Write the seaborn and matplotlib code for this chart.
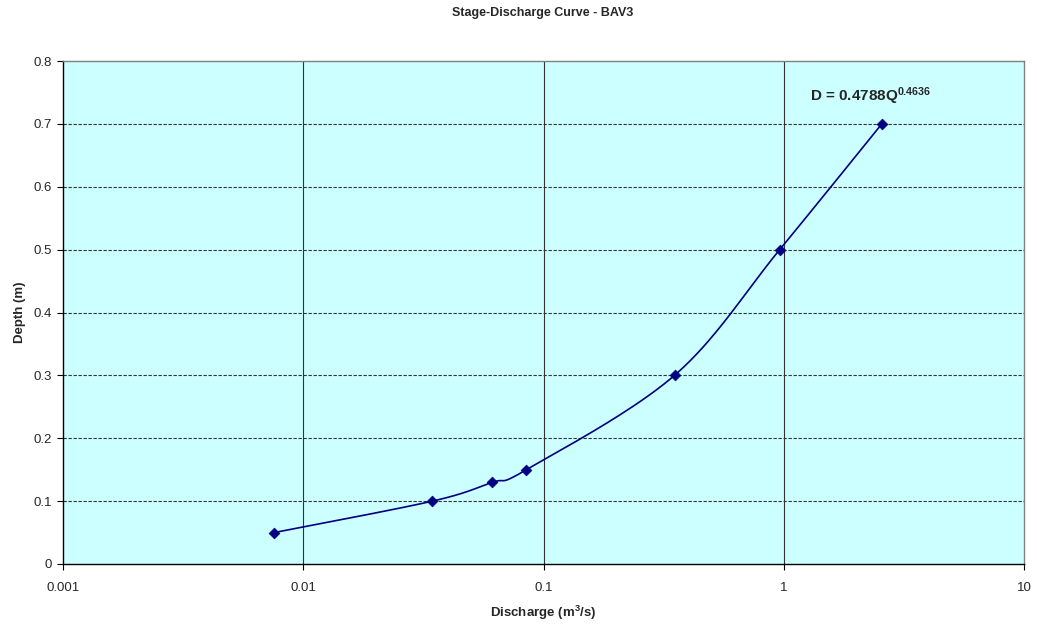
import numpy as np
import pandas as pd
import matplotlib
matplotlib.use("Agg")
import matplotlib.pyplot as plt
import seaborn as sns

# Data
discharge = [0.00757, 0.0345, 0.0613, 0.0849, 0.351, 0.962, 2.56]
depth = [0.05, 0.10, 0.13, 0.15, 0.30, 0.50, 0.70]
x_ticks = [0.001, 0.01, 0.1, 1, 10]
x_tick_labels = ["0.001", "0.01", "0.1", "1", "10"]
y_ticks = [0, 0.1, 0.2, 0.3, 0.4, 0.5, 0.6, 0.7, 0.8]
y_tick_labels = ["0", "0.1", "0.2", "0.3", "0.4", "0.5", "0.6", "0.7", "0.8"]
title = "Stage-Discharge Curve - BAV3"
equation = "D = 0.4788Q$^{0.4636}$"

sns.set_style("white")
plt.rcParams["font.family"] = ["Liberation Sans", "DejaVu Sans"]
plt.rcParams["mathtext.fontset"] = "custom"
plt.rcParams["mathtext.rm"] = "Liberation Sans:bold"
plt.rcParams["mathtext.bf"] = "Liberation Sans:bold"
plt.rcParams["mathtext.default"] = "bf"

fig = plt.figure(figsize=(10.37, 6.28), dpi=100)
ax = fig.add_axes([63/1037, 1 - 564/628, (1024-63)/1037, (564-61)/628])
ax.set_facecolor("#CCFFFF")
ax.set_xscale("log")
ax.set_xlim(0.001, 10)
ax.set_ylim(0, 0.8)

# Smoothed line (Excel-style Catmull-Rom in screen space)
pts = ax.transData.transform(np.column_stack([discharge, depth]))
curve = []
n = len(pts)
for i in range(n - 1):
    p0 = pts[i - 1] if i > 0 else pts[i]
    p1 = pts[i]
    p2 = pts[i + 1]
    p3 = pts[i + 2] if i + 2 < n else pts[i + 1]
    c1 = p1 + (p2 - p0) / 6.0
    c2 = p2 - (p3 - p1) / 6.0
    t = np.linspace(0, 1, 40)[:, None]
    seg = ((1 - t) ** 3) * p1 + 3 * ((1 - t) ** 2) * t * c1 + 3 * (1 - t) * t ** 2 * c2 + t ** 3 * p2
    curve.append(seg if i == 0 else seg[1:])
curve = np.vstack(curve)
curve_data = ax.transData.inverted().transform(curve)
df_curve = pd.DataFrame({"Q": curve_data[:, 0], "D": curve_data[:, 1]})
sns.lineplot(data=df_curve, x="Q", y="D", sort=False, estimator=None, color="#000080", lw=1.2, ax=ax, zorder=3)

df = pd.DataFrame({"Q": discharge, "D": depth})
sns.scatterplot(data=df, x="Q", y="D", marker="D", s=30, color="#000080", edgecolor="#000080", linewidth=0.5, ax=ax, zorder=4)

# Grid
for yv in y_ticks[1:-1]:
    ax.axhline(yv, color="#333333", lw=0.8, ls=(0, (3, 1.5)), zorder=1)
for xv in x_ticks[1:-1]:
    ax.axvline(xv, color="#333333", lw=0.8, zorder=1)

ax.set_xticks(x_ticks)
ax.set_xticklabels(x_tick_labels)
ax.xaxis.set_minor_locator(matplotlib.ticker.NullLocator())
ax.set_yticks(y_ticks)
ax.set_yticklabels(y_tick_labels)
ax.tick_params(axis="both", which="major", direction="out", length=4, width=0.8, color="black",
               labelsize=9.5, pad=9, bottom=True, left=True)
ax.tick_params(axis="y", pad=4)

for s in ["top", "right"]:
    ax.spines[s].set_color("#808080")
    ax.spines[s].set_linewidth(1.0)
for s in ["left", "bottom"]:
    ax.spines[s].set_color("black")
    ax.spines[s].set_linewidth(1.0)

ax.set_xlabel("Discharge (m$^{3}$/s)", fontsize=9.5, fontweight="bold", labelpad=7)
ax.set_ylabel("Depth (m)", fontsize=9.5, fontweight="bold", labelpad=5)
fig.text(543/1037, 1 - 13/628, title, ha="center", va="center", fontsize=9, fontweight="bold")

ax.annotate(equation, xy=(810/1037, 1 - 96/628), xycoords="figure fraction", ha="left", va="center",
            fontsize=11, fontweight="bold")

fig.savefig("out.png", dpi=100)
